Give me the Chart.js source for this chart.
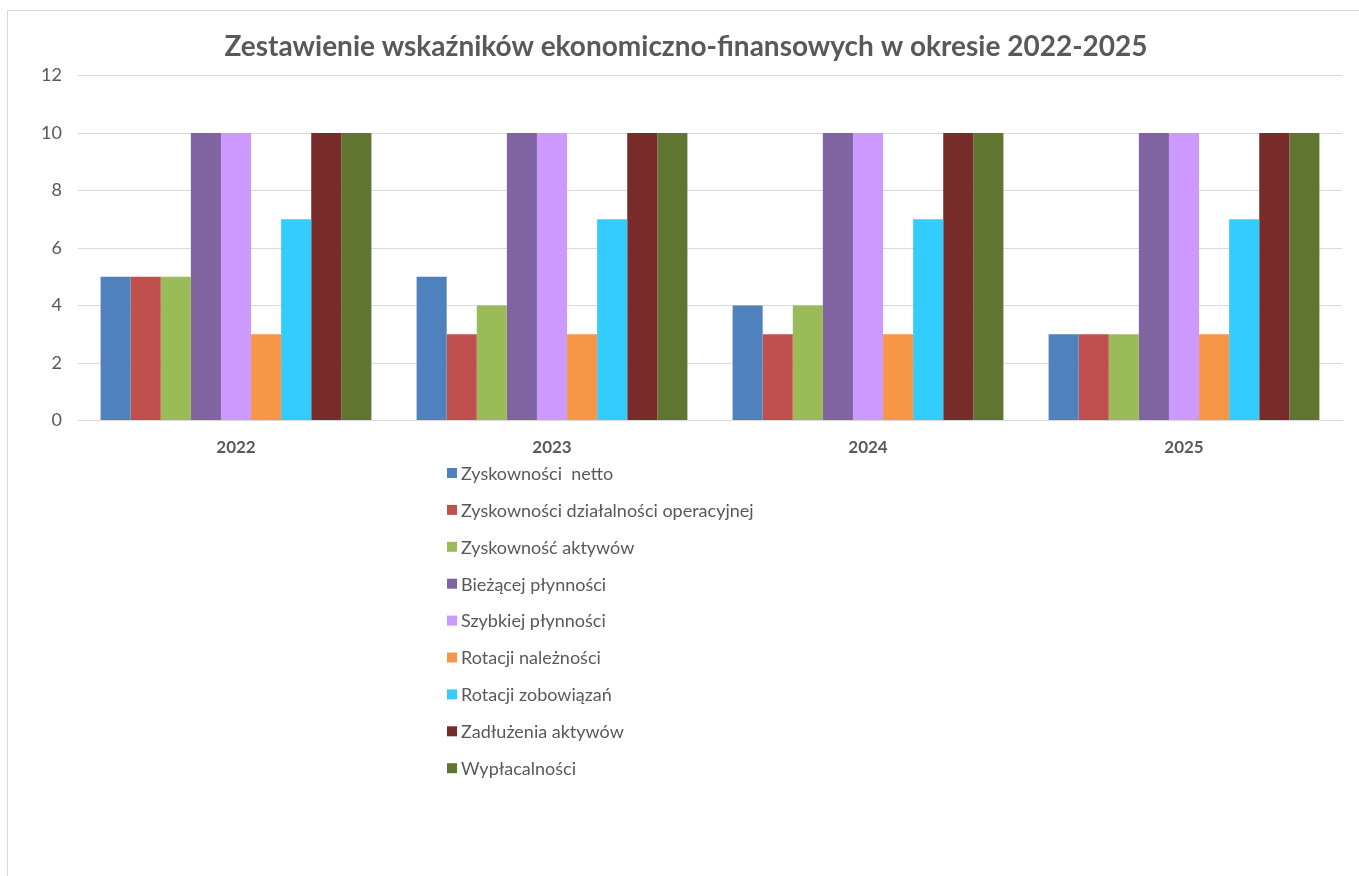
<!DOCTYPE html>
<html>
<head>
<meta charset="utf-8">
<script src="https://cdn.jsdelivr.net/npm/chart.js@4/dist/chart.umd.min.js"></script>
<style>
  html, body { margin: 0; padding: 0; background: #fff; overflow: hidden; }
  #frame { position: absolute; left: 7px; top: 10px; width: 1400px; height: 900px; border: 1px solid #d9d9d9; }
  #wrap { position: absolute; left: 0; top: 0; width: 1359px; height: 876px; }
</style>
</head>
<body>
<div id="frame"></div>
<div id="wrap"><canvas id="chart"></canvas></div>
<script>
const years = ['2022', '2023', '2024', '2025'];
const seriesNames = [
    'Zyskowności  netto',
    'Zyskowności działalności operacyjnej',
    'Zyskowność aktywów',
    'Bieżącej płynności',
    'Szybkiej płynności',
    'Rotacji należności',
    'Rotacji zobowiązań',
    'Zadłużenia aktywów',
    'Wypłacalności'
];
const zyskNetto = [5, 5, 4, 3];
const zyskOperacyjnej = [5, 3, 3, 3];
const zyskAktywow = [5, 4, 4, 3];
const biezacejPlynnosci = [10, 10, 10, 10];
const szybkiejPlynnosci = [10, 10, 10, 10];
const rotacjiNaleznosci = [3, 3, 3, 3];
const rotacjiZobowiazan = [7, 7, 7, 7];
const zadluzeniaAktywow = [10, 10, 10, 10];
const wyplacalnosci = [10, 10, 10, 10];
const yTicks = [0, 2, 4, 6, 8, 10, 12];

const seriesValues = [zyskNetto, zyskOperacyjnej, zyskAktywow, biezacejPlynnosci,
    szybkiejPlynnosci, rotacjiNaleznosci, rotacjiZobowiazan, zadluzeniaAktywow, wyplacalnosci];
const colors = ['#4f81bd', '#c0504d', '#9bbb59', '#8064a2', '#cc99ff',
    '#f79646', '#33ccff', '#772c2a', '#5f7530'];

const textColor = '#595959';
const fontFamily = 'Lato, "Open Sans", sans-serif';

// vertical legend under the axis, like the Excel one
const columnLegend = {
    id: 'columnLegend',
    afterDraw(chart) {
        const ctx = chart.ctx;
        ctx.save();
        ctx.font = '18px ' + fontFamily;
        ctx.textBaseline = 'middle';
        chart.data.datasets.forEach((ds, i) => {
            const y = 473 + i * 36.9;
            ctx.fillStyle = ds.backgroundColor;
            ctx.fillRect(447, y - 5, 10, 10);
            ctx.fillStyle = textColor;
            ctx.fillText(ds.label, 461, y + 1);
        });
        ctx.restore();
    }
};

new Chart(document.querySelector('#chart'), {
    type: 'bar',
    data: {
        labels: years,
        datasets: seriesNames.map((name, i) => ({
            label: name,
            data: seriesValues[i],
            backgroundColor: colors[i],
            borderWidth: 0,
            categoryPercentage: 0.857,
            barPercentage: 1
        }))
    },
    options: {
        responsive: true,
        maintainAspectRatio: false,
        animation: false,
        layout: { padding: { left: 30, right: 17, top: 0, bottom: 409 } },
        plugins: {
            legend: { display: false },
            tooltip: { enabled: false },
            title: {
                display: true,
                text: 'Zestawienie wskaźników ekonomiczno-finansowych w okresie 2022-2025',
                color: textColor,
                font: { family: fontFamily, size: 28, weight: 'bold' },
                padding: { top: 30, bottom: 12 }
            }
        },
        scales: {
            x: {
                grid: { display: false },
                border: { color: '#d9d9d9' },
                ticks: { color: textColor, padding: 9, font: { family: fontFamily, size: 17, weight: 'bold' } }
            },
            y: {
                min: 0,
                max: 12,
                afterFit: (s) => { s.width = 48; },
                afterBuildTicks: (s) => { s.ticks = yTicks.map(v => ({ value: v })); },
                grid: { color: '#d9d9d9', drawTicks: false },
                border: { display: false },
                ticks: { color: textColor, padding: 16, font: { family: fontFamily, size: 18 } }
            }
        }
    },
    plugins: [columnLegend]
});
</script>
</body>
</html>
